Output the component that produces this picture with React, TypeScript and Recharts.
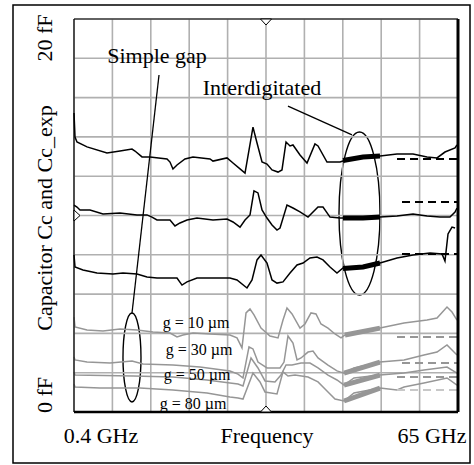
import {
  LineChart,
  Line,
  XAxis,
  YAxis,
  ReferenceLine,
  ReferenceArea,
  ReferenceDot,
} from 'recharts'

type Pt = [number, number]

// frequency (GHz), capacitance (fF)
const interTop: Pt[] = [
  [0.4, 15.22], [0.57, 13.99], [0.9, 13.74], [2.59, 13.49], [5.95, 13.18], [8.14, 13.28], [10.16, 13.38],
  [10.66, 13.28], [11.84, 12.98], [13.19, 12.98], [16.05, 12.88], [16.55, 12.72], [17.05, 12.37], [17.73, 12.57],
  [19.07, 12.88], [20.42, 12.98], [23.28, 12.88], [23.78, 12.77], [26.14, 12.93], [27.15, 12.67], [28.33, 12.37],
  [29.17, 12.16], [30.51, 14.5], [31.19, 13.69], [32.03, 12.72], [32.87, 12.62], [33.71, 12.32], [34.72, 12.21],
  [35.39, 12.32], [36.07, 13.74], [36.74, 13.54], [37.24, 13.59], [38.42, 13.08], [39.6, 12.67], [40.94, 13.64],
  [41.45, 13.54], [42.96, 12.72], [45.15, 12.72], [45.65, 12.77], [46.83, 12.88], [49.02, 12.98], [51.88, 13.03],
  [54.74, 13.13], [57.43, 13.13], [59.79, 12.98], [61.47, 12.93], [62.81, 13.23], [64.5, 13.44], [64.83, 13.59],
]
const interMid: Pt[] = [
  [0.4, 10.53], [0.9, 10.43], [1.41, 10.28], [3.09, 10.28], [5.28, 10.08], [8.14, 10.13], [11.0, 10.03],
  [12.68, 10.03], [13.52, 9.92], [14.36, 9.77], [16.55, 9.77], [17.39, 9.47], [18.23, 9.62], [19.41, 9.77],
  [21.09, 9.87], [23.78, 9.77], [26.14, 9.82], [27.15, 9.67], [28.33, 9.41], [29.17, 9.77], [30.01, 10.03],
  [30.68, 11.25], [31.35, 11.15], [32.03, 10.28], [32.87, 9.87], [33.71, 9.52], [34.55, 9.26], [35.06, 9.36],
  [36.23, 10.53], [37.24, 10.38], [38.42, 10.18], [39.77, 9.92], [41.45, 10.43], [42.29, 10.43], [43.47, 9.92],
  [45.15, 9.87], [45.65, 9.87], [49.02, 9.87], [51.88, 9.92], [54.74, 9.97], [57.43, 10.08], [59.79, 9.97],
  [61.97, 9.92], [63.65, 9.92], [64.5, 10.18], [64.83, 10.38],
]
const interLow: Pt[] = [
  [0.4, 7.99], [0.57, 7.38], [1.91, 7.23], [4.27, 7.07], [6.96, 7.02], [8.64, 7.07], [11.0, 7.02], [12.68, 6.87],
  [14.36, 6.82], [17.73, 6.82], [18.57, 6.46], [19.41, 6.62], [21.09, 6.82], [26.64, 6.82], [27.82, 6.72],
  [29.5, 6.31], [30.35, 6.72], [31.19, 7.74], [31.86, 7.99], [32.87, 7.58], [33.71, 6.72], [34.55, 6.56],
  [35.56, 6.62], [36.74, 7.07], [37.92, 7.48], [38.93, 7.58], [40.1, 7.84], [41.28, 7.89], [42.29, 7.74],
  [43.47, 7.38], [44.64, 7.07], [45.65, 7.33], [49.02, 7.38], [51.88, 7.58], [54.74, 7.84], [57.43, 7.99],
  [60.29, 8.09], [62.31, 8.04], [62.81, 7.68], [63.32, 9.06], [63.99, 9.41], [64.5, 9.36],
]

const gap10: Pt[] = [
  [0.4, 4.83], [0.57, 4.33], [2.59, 4.17], [5.28, 4.12], [8.14, 4.22], [11.0, 4.17], [13.69, 4.07], [16.55, 4.02],
  [17.73, 3.82], [18.74, 3.92], [20.42, 4.02], [23.28, 3.97], [26.64, 3.92], [27.82, 3.77], [28.66, 3.26],
  [29.34, 5.04], [30.01, 5.24], [30.68, 4.94], [31.86, 4.27], [33.37, 3.87], [34.72, 3.77], [35.56, 4.68],
  [36.23, 5.29], [37.08, 4.99], [38.42, 4.27], [39.26, 4.48], [40.27, 5.04], [41.11, 4.99], [41.95, 4.48],
  [43.13, 4.27], [44.31, 3.97], [45.32, 3.77], [45.99, 3.92], [51.88, 4.27], [55.92, 4.53], [59.79, 4.68],
  [61.47, 4.78], [63.15, 5.34], [63.99, 5.09], [64.83, 4.68],
]
const gap30: Pt[] = [
  [0.4, 2.8], [0.57, 2.65], [2.59, 2.54], [6.46, 2.49], [10.16, 2.6], [12.01, 2.44], [17.05, 2.39], [21.6, 2.29],
  [26.64, 2.09], [27.99, 1.93], [28.83, 1.73], [29.84, 3.31], [30.51, 3.21], [31.35, 2.54], [32.87, 2.24],
  [35.06, 2.24], [35.73, 2.54], [36.4, 3.87], [37.24, 3.51], [37.92, 2.65], [38.59, 2.75], [39.77, 3.05],
  [40.61, 3.1], [41.45, 2.75], [43.13, 2.39], [44.64, 2.09], [45.82, 1.98], [47.5, 2.24], [51.88, 2.54],
  [55.92, 2.65], [59.28, 2.9], [61.47, 3.05], [63.15, 3.41], [64.83, 2.9],
]
const gap50: Pt[] = [
  [0.4, 2.04], [0.57, 1.88], [10.33, 1.83], [17.05, 1.78], [22.77, 1.63], [26.64, 1.48], [27.99, 1.42],
  [28.83, 1.32], [30.18, 2.75], [31.35, 2.24], [32.53, 1.58], [34.21, 1.53], [35.22, 1.88], [36.07, 2.39],
  [37.08, 2.39], [38.59, 2.49], [40.1, 2.49], [41.45, 2.24], [43.13, 1.88], [44.64, 1.63], [45.82, 1.37],
  [47.5, 1.73], [51.88, 1.88], [55.92, 1.98], [59.28, 2.14], [63.15, 2.29], [64.83, 1.98],
]
const gap80: Pt[] = [
  [0.4, 1.42], [0.57, 1.27], [4.77, 1.22], [11.5, 1.22], [17.05, 1.12], [22.77, 0.97], [26.64, 0.76],
  [27.99, 0.71], [28.83, 0.66], [30.51, 1.98], [31.69, 1.53], [32.53, 1.02], [34.55, 0.92], [35.56, 2.04],
  [36.4, 1.83], [37.58, 1.88], [39.77, 1.78], [41.45, 1.53], [43.13, 1.02], [44.31, 0.66], [45.82, 0.56],
  [47.5, 0.97], [51.88, 1.22], [54.74, 1.12], [55.92, 1.27], [59.28, 1.48], [63.15, 1.73], [64.83, 1.37],
]

// noisy stretch around 46-52 GHz (band centre)
const interTopNoise: Pt[] = [[45.65, 12.8], [49.02, 12.98], [51.88, 13.03]]
const interMidNoise: Pt[] = [[45.65, 9.87], [49.02, 9.87], [51.88, 9.92]]
const interLowNoise: Pt[] = [[45.65, 7.3], [49.02, 7.38], [51.88, 7.58]]
const gap10Noise: Pt[] = [[45.99, 3.92], [51.88, 4.27]]
const gap30Noise: Pt[] = [[45.82, 1.98], [51.88, 2.54]]
const gap50Noise: Pt[] = [[45.82, 1.37], [51.88, 1.88]]
const gap80Noise: Pt[] = [[45.82, 0.56], [51.88, 1.22]]

// Cc_exp (dashed)
const interTopExp: Pt[] = [[54.74, 12.88], [65, 12.88]]
const interMidExp: Pt[] = [[55.58, 10.69], [65, 10.69]]
const interLowExp: Pt[] = [[55.58, 8.04], [65, 8.04]]
const gap10Exp: Pt[] = [[54.74, 3.82], [65, 3.82]]
const gap30Exp: Pt[] = [[55.58, 2.49], [65, 2.49]]
const gap50Exp: Pt[] = [[54.74, 1.78], [65, 1.78]]
const gap80Exp: Pt[] = [[54.74, 1.12], [65, 1.12]]

const xTicks = [0.4, 6.86, 13.32, 19.78, 26.24, 32.7, 39.16, 45.62, 52.08, 58.54, 65]
const yTicks = [0, 2, 4, 6, 8, 10, 12, 14, 16, 18, 20]

const GRAY = '#969696'
const GRID = '#b0b0b0'
const FONT = "'Liberation Serif', 'DejaVu Serif', 'Times New Roman', serif"

const rows = (pts: Pt[]) => pts.map(([f, c]) => ({ f, c }))

// grid lines built from the tick lists, drawn through the axes' scales
const X_MIN = xTicks[0]
const X_MAX = xTicks[xTicks.length - 1]
const Y_MIN = yTicks[0]
const Y_MAX = yTicks[yTicks.length - 1]
const gridLines = [
  ...xTicks.map(t => ({ key: 'gx' + t, pts: [[t, Y_MIN], [t, Y_MAX]] as Pt[] })),
  ...yTicks.map(t => ({ key: 'gy' + t, pts: [[X_MIN, t], [X_MAX, t]] as Pt[] })),
]

const ellipseShape = (props: any) => {
  const { x, y, width, height } = props
  return (
    <ellipse
      cx={x + width / 2}
      cy={y + height / 2}
      rx={width / 2}
      ry={height / 2}
      fill="none"
      stroke="#000"
      strokeWidth={1.4}
    />
  )
}

const triangle = (dir: 'down' | 'up' | 'right') => (props: any) => {
  const { cx, cy } = props
  let d = ''
  if (dir === 'down') d = `M${cx - 5.5},${cy} L${cx + 5.5},${cy} L${cx},${cy + 6} Z`
  if (dir === 'up') d = `M${cx - 5.5},${cy} L${cx + 5.5},${cy} L${cx},${cy - 6} Z`
  if (dir === 'right') d = `M${cx},${cy - 5.5} L${cx},${cy + 5.5} L${cx + 6},${cy} Z`
  return <path d={d} fill="#fff" stroke="#000" strokeWidth={1} />
}

const txt = { fontFamily: FONT, fill: '#000' }

export default function App() {
  const measured = [
    { key: 'g10', pts: gap10, color: GRAY },
    { key: 'g30', pts: gap30, color: GRAY },
    { key: 'g50', pts: gap50, color: GRAY },
    { key: 'g80', pts: gap80, color: GRAY },
    { key: 'iTop', pts: interTop, color: '#000' },
    { key: 'iMid', pts: interMid, color: '#000' },
    { key: 'iLow', pts: interLow, color: '#000' },
  ]
  const noise = [
    { key: 'n10', pts: gap10Noise, color: GRAY },
    { key: 'n30', pts: gap30Noise, color: GRAY },
    { key: 'n50', pts: gap50Noise, color: GRAY },
    { key: 'n80', pts: gap80Noise, color: GRAY },
    { key: 'nTop', pts: interTopNoise, color: '#000' },
    { key: 'nMid', pts: interMidNoise, color: '#000' },
    { key: 'nLow', pts: interLowNoise, color: '#000' },
  ]
  const expected = [
    { key: 'e10', pts: gap10Exp, color: GRAY },
    { key: 'e30', pts: gap30Exp, color: GRAY },
    { key: 'e50', pts: gap50Exp, color: GRAY },
    { key: 'e80', pts: gap80Exp, color: '#c8c8c8' },
    { key: 'eTop', pts: interTopExp, color: '#000' },
    { key: 'eMid', pts: interMidExp, color: '#000' },
    { key: 'eLow', pts: interLowExp, color: '#000' },
  ]

  return (
    <div style={{ position: 'absolute', left: 0, top: 0, width: 474, height: 465, background: '#fff' }}>
      <LineChart width={474} height={465} margin={{ top: 19, right: 16, bottom: 53, left: 74 }}>
        <XAxis type="number" dataKey="f" domain={[X_MIN, X_MAX]} ticks={xTicks} hide />
        <YAxis type="number" dataKey="c" domain={[Y_MIN, Y_MAX]} ticks={yTicks} hide />

        {gridLines.map(g => (
          <Line key={g.key} data={rows(g.pts)} dataKey="c" type="linear" stroke={GRID}
            strokeWidth={1.6} dot={false} activeDot={false} isAnimationActive={false} />
        ))}
        {measured.map(s => (
          <Line key={s.key} data={rows(s.pts)} dataKey="c" type="linear" stroke={s.color}
            strokeWidth={1.5} dot={false} isAnimationActive={false} />
        ))}
        {noise.map(s => (
          <Line key={s.key} data={rows(s.pts)} dataKey="c" type="linear" stroke={s.color}
            strokeWidth={5} dot={false} isAnimationActive={false} />
        ))}
        {expected.map(s => (
          <Line key={s.key} data={rows(s.pts)} dataKey="c" type="linear" stroke={s.color}
            strokeWidth={2} strokeDasharray="8 5" dot={false} isAnimationActive={false} />
        ))}

        <ReferenceArea x1={8.64} x2={11.67} y1={0.51} y2={5.04} shape={ellipseShape} ifOverflow="visible" />
        <ReferenceArea x1={44.98} x2={51.88} y1={5.95} y2={14.25} shape={ellipseShape} ifOverflow="visible" />
        <ReferenceLine segment={[{ x: 14.7, y: 17.15 }, { x: 10.16, y: 5.04 }]} stroke="#000" strokeWidth={1.3} ifOverflow="visible" />
        <ReferenceLine segment={[{ x: 36.4, y: 15.57 }, { x: 47.17, y: 14.1 }]} stroke="#000" strokeWidth={1.3} ifOverflow="visible" />

        <ReferenceLine x={X_MIN} stroke="#000" strokeWidth={1.2} ifOverflow="visible" />
        <ReferenceLine y={Y_MAX} stroke="#000" strokeWidth={1.2} ifOverflow="visible" />
        <ReferenceLine x={X_MAX} stroke="#000" strokeWidth={3} ifOverflow="visible" />
        <ReferenceLine y={Y_MIN} stroke="#000" strokeWidth={2.5} ifOverflow="visible" />

        <ReferenceDot x={32.7} y={Y_MAX} r={5} shape={triangle('down')} ifOverflow="visible" />
        <ReferenceDot x={32.7} y={Y_MIN} r={5} shape={triangle('up')} ifOverflow="visible" />
        <ReferenceDot x={X_MIN} y={10} r={5} shape={triangle('right')} ifOverflow="visible" />
      </LineChart>

      <svg width={474} height={465} style={{ position: 'absolute', left: 0, top: 0, pointerEvents: 'none' }}>
        <rect x={13} y={5} width={457} height={458} fill="none" stroke="#000" strokeWidth={1.5} />
        <text style={txt} x={44} y={38} fontSize={22} textAnchor="middle" dominantBaseline="central" transform="rotate(-90 44 38)">20 fF</text>
        <text style={txt} x={44} y={218} fontSize={22} textAnchor="middle" dominantBaseline="central" transform="rotate(-90 44 218)">Capacitor Cc and Cc_exp</text>
        <text style={txt} x={44} y={395} fontSize={22} textAnchor="middle" dominantBaseline="central" transform="rotate(-90 44 395)">0 fF</text>
        <text style={txt} x={101} y={443} fontSize={22} textAnchor="middle">0.4 GHz</text>
        <text style={txt} x={267} y={443} fontSize={22} textAnchor="middle">Frequency</text>
        <text style={txt} x={432} y={443} fontSize={22} textAnchor="middle">65 GHz</text>
        <text style={txt} x={157} y={63} fontSize={22} textAnchor="middle">Simple gap</text>
        <text style={txt} x={262} y={95} fontSize={22} textAnchor="middle">Interdigitated</text>
        <text style={txt} x={196} y={328} fontSize={16} textAnchor="middle">g = 10 µm</text>
        <text style={txt} x={199} y={355} fontSize={16} textAnchor="middle">g = 30 µm</text>
        <text style={txt} x={197} y={380} fontSize={16} textAnchor="middle">g = 50 µm</text>
        <text style={txt} x={193} y={409} fontSize={16} textAnchor="middle">g = 80 µm</text>
      </svg>
    </div>
  )
}
